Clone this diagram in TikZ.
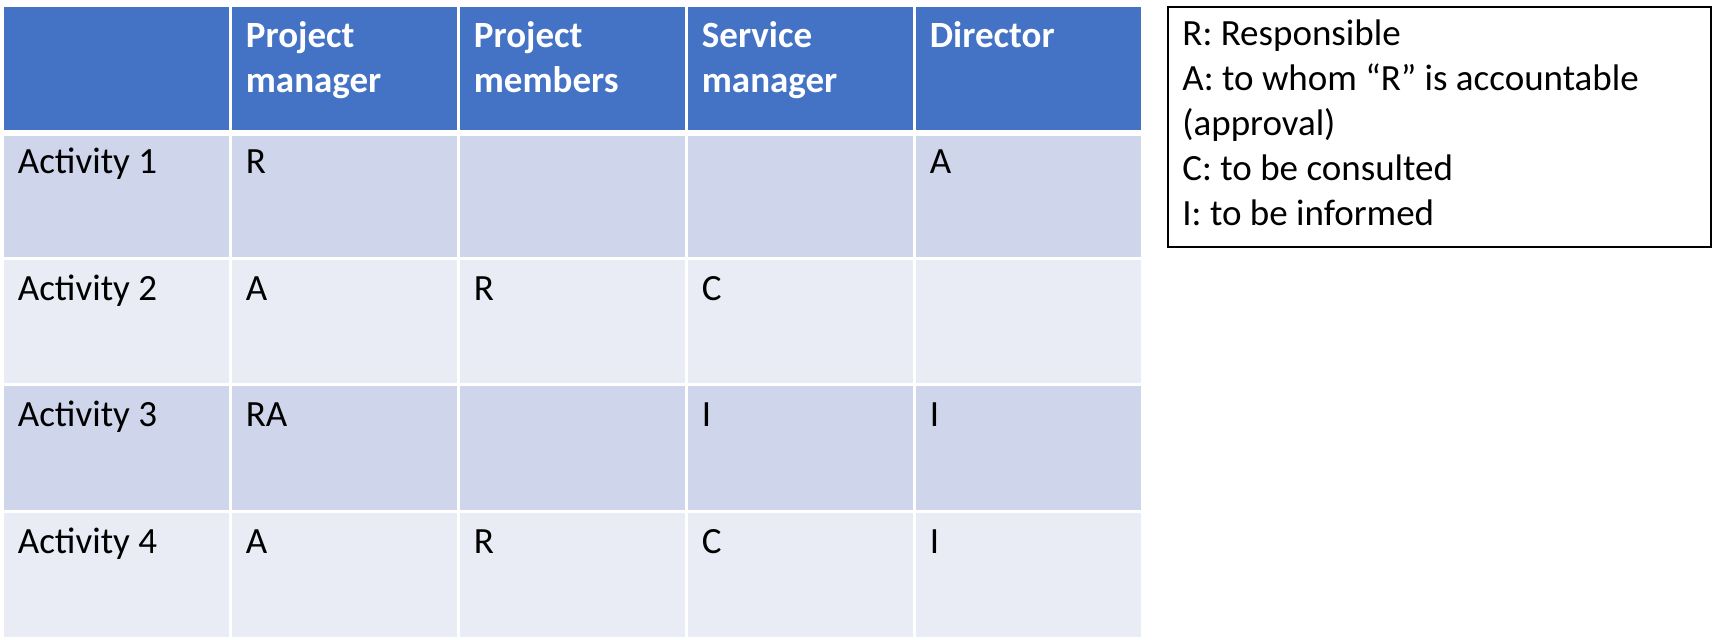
\documentclass[tikz,border=0pt]{standalone}
\usepackage{fontspec}
\setmainfont{Carlito}
\definecolor{headblue}{HTML}{4472C4}
\definecolor{rowdark}{HTML}{CFD5EA}
\definecolor{rowlight}{HTML}{E9EBF5}

\begin{document}
\begin{tikzpicture}[x=0.5pt, y=-0.5pt,
  cell/.style={anchor=north west, inner sep=0pt, draw=white, line width=1.5pt, minimum width=114pt, minimum height=63.3pt},
  entry/.style={anchor=base west, inner sep=0pt, align=left, font=\fontsize{18.5}{22.5}\selectfont},
  headtext/.style={entry, text=white, font=\fontsize{18.5}{22.5}\selectfont\bfseries}]

\useasboundingbox (0,0) rectangle (1713,639);

\foreach \r/\f in {0/headblue,1/rowdark,2/rowlight,3/rowdark,4/rowlight}
  \foreach \c in {0,...,4}
    \node[cell, fill=\f] (cell-\r-\c) at ({0.5+228*\c},{3.5+126.6*\r}) {};

\draw[white, line width=2.5pt] (cell-0-0.south west) -- (cell-0-4.south east);

\node[headtext] (pmanager) at (245.5,92) {Project\\manager};
\node[headtext] (pmembers) at (473.5,92) {Project\\members};
\node[headtext] (smanager) at (701.5,92) {Service\\manager};
\node[headtext] (director) at (929.5,47) {Director};

\node[entry] (act1) at (17.5,173) {Activity 1};
\node[entry] (act2) at (17.5,300) {Activity 2};
\node[entry] (act3) at (17.5,426) {Activity 3};
\node[entry] (act4) at (17.5,553) {Activity 4};

\node[entry] (r1pm) at (245.5,173) {R};
\node[entry] (r1d) at (929.5,173) {A};

\node[entry] (r2pm) at (245.5,300) {A};
\node[entry] (r2pt) at (473.5,300) {R};
\node[entry] (r2sm) at (701.5,300) {C};

\node[entry] (r3pm) at (245.5,426) {RA};
\node[entry] (r3sm) at (701.5,426) {I};
\node[entry] (r3d) at (929.5,426) {I};

\node[entry] (r4pm) at (245.5,553) {A};
\node[entry] (r4pt) at (473.5,553) {R};
\node[entry] (r4sm) at (701.5,553) {C};
\node[entry] (r4d) at (929.5,553) {I};

\node[draw=black, line width=1pt, anchor=north west, inner sep=0pt, minimum width=271.5pt, minimum height=120pt] (key) at (1167,6) {};
\node[entry] (keytext) at (1182,225) {R: Responsible\\A: to whom “R” is accountable\\(approval)\\C: to be consulted\\I: to be informed};

\end{tikzpicture}
\end{document}
